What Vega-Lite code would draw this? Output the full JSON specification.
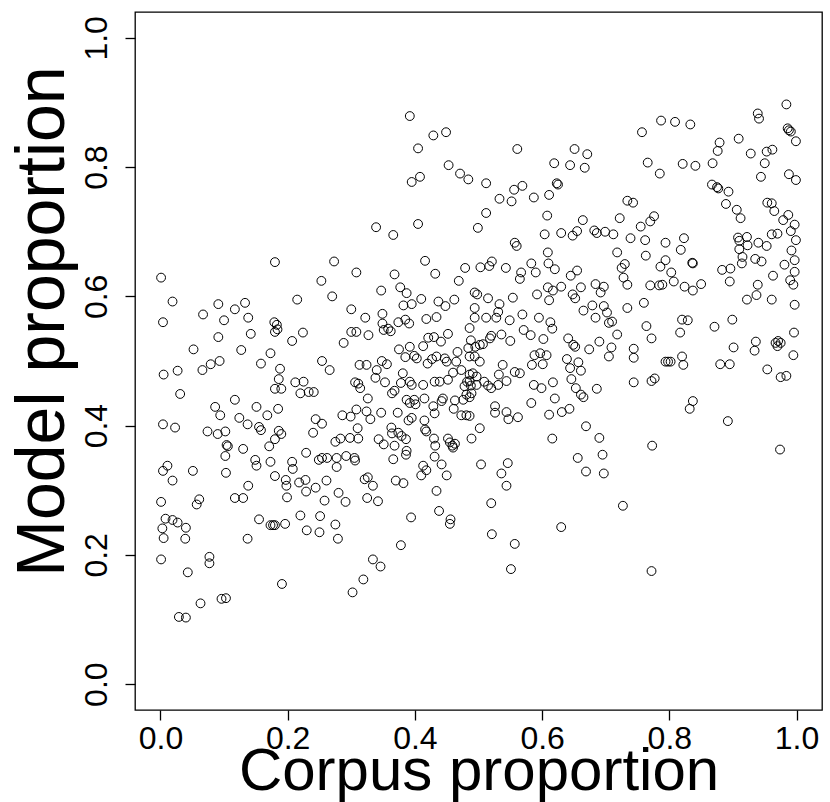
{
"$schema":"https://vega.github.io/schema/vega-lite/v6.json",
"width":687,"height":698,
"autosize":{"type":"none"},
"padding":{"left":135,"top":12,"right":8,"bottom":92},
"background":"white",
"config":{"view":{"stroke":"black","strokeWidth":1.3},"font":"Liberation Sans"},
"data":{"values":[
{"x":0.001,"y":0.629},{"x":0.180,"y":0.653},
{"x":0.392,"y":0.879},{"x":0.429,"y":0.849},{"x":0.449,"y":0.854},{"x":0.405,"y":0.829},{"x":0.453,"y":0.803},{"x":0.471,"y":0.790},{"x":0.484,"y":0.781},{"x":0.408,"y":0.785},{"x":0.395,"y":0.777},{"x":0.339,"y":0.707},{"x":0.366,"y":0.695},{"x":0.405,"y":0.712},{"x":0.499,"y":0.706},{"x":0.273,"y":0.654},{"x":0.308,"y":0.637},{"x":0.253,"y":0.624},{"x":0.368,"y":0.634},{"x":0.416,"y":0.655},{"x":0.432,"y":0.635},{"x":0.479,"y":0.644},{"x":0.469,"y":0.624},
{"x":0.561,"y":0.828},{"x":0.651,"y":0.828},{"x":0.671,"y":0.820},{"x":0.619,"y":0.806},{"x":0.644,"y":0.803},{"x":0.667,"y":0.799},{"x":0.623,"y":0.775},{"x":0.625,"y":0.773},{"x":0.512,"y":0.775},{"x":0.556,"y":0.765},{"x":0.569,"y":0.771},{"x":0.533,"y":0.751},{"x":0.552,"y":0.747},{"x":0.587,"y":0.753},{"x":0.611,"y":0.757},{"x":0.734,"y":0.748},{"x":0.743,"y":0.745},{"x":0.512,"y":0.729},{"x":0.608,"y":0.725},{"x":0.664,"y":0.718},{"x":0.722,"y":0.721},{"x":0.604,"y":0.696},{"x":0.630,"y":0.698},{"x":0.648,"y":0.694},{"x":0.655,"y":0.701},{"x":0.682,"y":0.702},{"x":0.686,"y":0.698},{"x":0.699,"y":0.700},{"x":0.712,"y":0.696},{"x":0.739,"y":0.690},{"x":0.557,"y":0.683},{"x":0.560,"y":0.678},{"x":0.609,"y":0.668},{"x":0.718,"y":0.668},{"x":0.503,"y":0.645},{"x":0.517,"y":0.647},{"x":0.521,"y":0.654},{"x":0.543,"y":0.644},{"x":0.583,"y":0.651},{"x":0.590,"y":0.637},{"x":0.610,"y":0.651},{"x":0.620,"y":0.642},{"x":0.567,"y":0.637},{"x":0.565,"y":0.627},{"x":0.645,"y":0.632},{"x":0.655,"y":0.640},{"x":0.725,"y":0.644},{"x":0.730,"y":0.650},{"x":0.728,"y":0.629},{"x":0.734,"y":0.618},{"x":0.684,"y":0.619},{"x":0.697,"y":0.615},{"x":0.630,"y":0.615},{"x":0.609,"y":0.614},{"x":0.661,"y":0.614},
{"x":0.984,"y":0.897},{"x":0.939,"y":0.883},{"x":0.941,"y":0.875},{"x":0.787,"y":0.872},{"x":0.809,"y":0.870},{"x":0.833,"y":0.866},{"x":0.757,"y":0.854},{"x":0.986,"y":0.860},{"x":0.988,"y":0.857},{"x":0.991,"y":0.855},{"x":0.999,"y":0.840},{"x":0.879,"y":0.838},{"x":0.876,"y":0.825},{"x":0.909,"y":0.844},{"x":0.928,"y":0.821},{"x":0.953,"y":0.824},{"x":0.962,"y":0.827},{"x":0.950,"y":0.806},{"x":0.766,"y":0.807},{"x":0.785,"y":0.790},{"x":0.821,"y":0.805},{"x":0.841,"y":0.802},{"x":0.868,"y":0.806},{"x":0.944,"y":0.785},{"x":0.988,"y":0.789},{"x":0.999,"y":0.780},{"x":0.867,"y":0.773},{"x":0.875,"y":0.769},{"x":0.877,"y":0.767},{"x":0.893,"y":0.762},{"x":0.889,"y":0.743},{"x":0.906,"y":0.734},{"x":0.912,"y":0.721},{"x":0.954,"y":0.745},{"x":0.961,"y":0.744},{"x":0.965,"y":0.732},{"x":0.979,"y":0.718},{"x":0.987,"y":0.726},{"x":0.997,"y":0.711},{"x":0.991,"y":0.701},{"x":0.999,"y":0.687},{"x":0.776,"y":0.724},{"x":0.770,"y":0.716},{"x":0.755,"y":0.708},{"x":0.762,"y":0.687},{"x":0.794,"y":0.683},{"x":0.823,"y":0.690},{"x":0.818,"y":0.672},{"x":0.763,"y":0.663},{"x":0.794,"y":0.656},{"x":0.786,"y":0.646},{"x":0.803,"y":0.637},{"x":0.836,"y":0.652},{"x":0.837,"y":0.651},{"x":0.807,"y":0.623},{"x":0.770,"y":0.617},{"x":0.784,"y":0.617},{"x":0.789,"y":0.618},{"x":0.824,"y":0.615},{"x":0.850,"y":0.619},{"x":0.883,"y":0.641},{"x":0.896,"y":0.643},{"x":0.895,"y":0.623},{"x":0.908,"y":0.691},{"x":0.910,"y":0.686},{"x":0.922,"y":0.692},{"x":0.923,"y":0.679},{"x":0.910,"y":0.673},{"x":0.915,"y":0.661},{"x":0.914,"y":0.651},{"x":0.940,"y":0.683},{"x":0.953,"y":0.678},{"x":0.961,"y":0.696},{"x":0.970,"y":0.697},{"x":0.935,"y":0.658},{"x":0.945,"y":0.654},{"x":0.939,"y":0.618},{"x":0.963,"y":0.632},{"x":0.981,"y":0.649},{"x":0.997,"y":0.656},{"x":0.992,"y":0.671},{"x":0.997,"y":0.638},{"x":0.990,"y":0.625},{"x":0.995,"y":0.618},
{"x":0.019,"y":0.592},{"x":0.091,"y":0.588},{"x":0.133,"y":0.590},{"x":0.117,"y":0.580},{"x":0.215,"y":0.595},{"x":0.004,"y":0.560},{"x":0.067,"y":0.572},{"x":0.100,"y":0.563},{"x":0.138,"y":0.567},{"x":0.179,"y":0.560},{"x":0.183,"y":0.556},{"x":0.180,"y":0.545},{"x":0.184,"y":0.549},{"x":0.091,"y":0.537},{"x":0.142,"y":0.542},{"x":0.207,"y":0.531},{"x":0.224,"y":0.544},{"x":0.052,"y":0.518},{"x":0.127,"y":0.517},{"x":0.173,"y":0.512},{"x":0.158,"y":0.496},{"x":0.066,"y":0.486},{"x":0.079,"y":0.495},{"x":0.093,"y":0.500},{"x":0.005,"y":0.479},{"x":0.027,"y":0.485},{"x":0.188,"y":0.488},{"x":0.186,"y":0.472},{"x":0.180,"y":0.457},{"x":0.190,"y":0.457},{"x":0.212,"y":0.467},{"x":0.225,"y":0.468},{"x":0.220,"y":0.450},{"x":0.233,"y":0.452},{"x":0.241,"y":0.452},{"x":0.031,"y":0.449},{"x":0.086,"y":0.429},{"x":0.094,"y":0.416},{"x":0.117,"y":0.440},{"x":0.151,"y":0.429},{"x":0.168,"y":0.416},{"x":0.185,"y":0.426},{"x":0.124,"y":0.412},{"x":0.137,"y":0.402},{"x":0.155,"y":0.398},{"x":0.158,"y":0.393},{"x":0.186,"y":0.392},{"x":0.190,"y":0.387},{"x":0.180,"y":0.379},{"x":0.171,"y":0.368},{"x":0.244,"y":0.410},{"x":0.240,"y":0.389},{"x":0.004,"y":0.402},{"x":0.023,"y":0.397},{"x":0.074,"y":0.391},{"x":0.090,"y":0.387},{"x":0.102,"y":0.391},{"x":0.104,"y":0.370},{"x":0.106,"y":0.368},{"x":0.102,"y":0.353},{"x":0.130,"y":0.364},{"x":0.149,"y":0.347},{"x":0.151,"y":0.338},{"x":0.173,"y":0.344},{"x":0.207,"y":0.344},{"x":0.208,"y":0.333},{"x":0.229,"y":0.358},{"x":0.004,"y":0.330},{"x":0.011,"y":0.338},{"x":0.051,"y":0.330},{"x":0.103,"y":0.327},{"x":0.180,"y":0.322},
{"x":0.019,"y":0.315},{"x":0.138,"y":0.307},{"x":0.197,"y":0.316},{"x":0.198,"y":0.307},{"x":0.218,"y":0.312},{"x":0.228,"y":0.316},{"x":0.244,"y":0.304},{"x":0.229,"y":0.298},{"x":0.199,"y":0.289},{"x":0.117,"y":0.288},{"x":0.130,"y":0.288},{"x":0.001,"y":0.282},{"x":0.057,"y":0.278},{"x":0.061,"y":0.286},{"x":0.008,"y":0.256},{"x":0.019,"y":0.254},{"x":0.027,"y":0.250},{"x":0.040,"y":0.242},{"x":0.003,"y":0.241},{"x":0.005,"y":0.226},{"x":0.039,"y":0.225},{"x":0.155,"y":0.255},{"x":0.173,"y":0.246},{"x":0.177,"y":0.246},{"x":0.180,"y":0.246},{"x":0.196,"y":0.248},{"x":0.220,"y":0.261},{"x":0.137,"y":0.225},{"x":0.001,"y":0.193},{"x":0.077,"y":0.197},{"x":0.077,"y":0.187},{"x":0.043,"y":0.173},{"x":0.191,"y":0.155},{"x":0.063,"y":0.125},{"x":0.096,"y":0.132},{"x":0.103,"y":0.133},{"x":0.029,"y":0.104},{"x":0.040,"y":0.103},
{"x":0.261,"y":0.315},{"x":0.258,"y":0.284},{"x":0.280,"y":0.296},{"x":0.291,"y":0.282},{"x":0.251,"y":0.260},{"x":0.230,"y":0.238},{"x":0.250,"y":0.235},{"x":0.275,"y":0.247},{"x":0.279,"y":0.225},{"x":0.321,"y":0.317},{"x":0.326,"y":0.320},{"x":0.334,"y":0.307},{"x":0.325,"y":0.288},{"x":0.342,"y":0.283},{"x":0.370,"y":0.315},{"x":0.382,"y":0.311},{"x":0.434,"y":0.299},{"x":0.438,"y":0.268},{"x":0.456,"y":0.255},{"x":0.455,"y":0.248},{"x":0.394,"y":0.258},{"x":0.378,"y":0.215},{"x":0.334,"y":0.193},{"x":0.346,"y":0.182},{"x":0.319,"y":0.162},{"x":0.302,"y":0.142},
{"x":0.544,"y":0.307},{"x":0.520,"y":0.280},{"x":0.521,"y":0.232},{"x":0.557,"y":0.217},{"x":0.551,"y":0.178},{"x":0.630,"y":0.243},{"x":0.727,"y":0.276},{"x":0.772,"y":0.175},
{"x":0.837,"y":0.609},{"x":0.760,"y":0.590},{"x":0.922,"y":0.595},{"x":0.937,"y":0.602},{"x":0.961,"y":0.595},{"x":0.997,"y":0.587},{"x":0.764,"y":0.554},{"x":0.772,"y":0.535},{"x":0.820,"y":0.564},{"x":0.829,"y":0.563},{"x":0.817,"y":0.544},{"x":0.871,"y":0.553},{"x":0.899,"y":0.564},{"x":0.901,"y":0.521},{"x":0.936,"y":0.530},{"x":0.934,"y":0.516},{"x":0.967,"y":0.528},{"x":0.971,"y":0.531},{"x":0.975,"y":0.528},{"x":0.970,"y":0.523},{"x":0.996,"y":0.544},{"x":0.995,"y":0.509},{"x":0.744,"y":0.519},{"x":0.744,"y":0.505},{"x":0.794,"y":0.499},{"x":0.798,"y":0.499},{"x":0.802,"y":0.499},{"x":0.820,"y":0.507},{"x":0.822,"y":0.494},{"x":0.880,"y":0.495},{"x":0.895,"y":0.495},{"x":0.954,"y":0.487},{"x":0.975,"y":0.475},{"x":0.984,"y":0.477},{"x":0.744,"y":0.467},{"x":0.772,"y":0.469},{"x":0.777,"y":0.473},{"x":0.837,"y":0.438},{"x":0.832,"y":0.426},{"x":0.892,"y":0.407},{"x":0.773,"y":0.369},{"x":0.974,"y":0.363},
{"x":0.494,"y":0.606},{"x":0.498,"y":0.603},{"x":0.515,"y":0.597},{"x":0.533,"y":0.588},{"x":0.554,"y":0.598},{"x":0.592,"y":0.603},{"x":0.617,"y":0.609},{"x":0.611,"y":0.594},{"x":0.648,"y":0.603},{"x":0.652,"y":0.597},{"x":0.692,"y":0.606},{"x":0.734,"y":0.582},{"x":0.494,"y":0.582},{"x":0.494,"y":0.567},{"x":0.512,"y":0.567},{"x":0.528,"y":0.567},{"x":0.531,"y":0.576},{"x":0.549,"y":0.563},{"x":0.569,"y":0.572},{"x":0.595,"y":0.567},{"x":0.613,"y":0.560},{"x":0.616,"y":0.550},{"x":0.665,"y":0.578},{"x":0.679,"y":0.586},{"x":0.684,"y":0.567},{"x":0.697,"y":0.585},{"x":0.702,"y":0.575},{"x":0.705,"y":0.559},{"x":0.710,"y":0.561},{"x":0.718,"y":0.541},{"x":0.486,"y":0.551},{"x":0.520,"y":0.539},{"x":0.518,"y":0.535},{"x":0.536,"y":0.541},{"x":0.550,"y":0.531},{"x":0.571,"y":0.548},{"x":0.582,"y":0.540},{"x":0.602,"y":0.534},{"x":0.641,"y":0.535},{"x":0.649,"y":0.525},{"x":0.652,"y":0.522},{"x":0.674,"y":0.518},{"x":0.690,"y":0.530},{"x":0.709,"y":0.521},{"x":0.705,"y":0.507},{"x":0.488,"y":0.532},{"x":0.495,"y":0.522},{"x":0.502,"y":0.525},{"x":0.507,"y":0.526},{"x":0.486,"y":0.507},{"x":0.494,"y":0.507},{"x":0.502,"y":0.499},{"x":0.491,"y":0.481},{"x":0.497,"y":0.476},{"x":0.486,"y":0.469},{"x":0.497,"y":0.463},{"x":0.509,"y":0.468},{"x":0.515,"y":0.462},{"x":0.520,"y":0.458},{"x":0.531,"y":0.463},{"x":0.532,"y":0.479},{"x":0.544,"y":0.469},{"x":0.538,"y":0.494},{"x":0.557,"y":0.483},{"x":0.565,"y":0.481},{"x":0.486,"y":0.444},{"x":0.584,"y":0.494},{"x":0.588,"y":0.509},{"x":0.597,"y":0.512},{"x":0.607,"y":0.509},{"x":0.601,"y":0.495},{"x":0.639,"y":0.503},{"x":0.644,"y":0.489},{"x":0.657,"y":0.498},{"x":0.661,"y":0.485},{"x":0.646,"y":0.472},{"x":0.587,"y":0.463},{"x":0.599,"y":0.458},{"x":0.617,"y":0.467},{"x":0.620,"y":0.442},{"x":0.583,"y":0.435},{"x":0.653,"y":0.458},{"x":0.661,"y":0.448},{"x":0.665,"y":0.444},{"x":0.686,"y":0.457},{"x":0.526,"y":0.430},{"x":0.526,"y":0.420},{"x":0.544,"y":0.421},{"x":0.547,"y":0.410},{"x":0.562,"y":0.413},{"x":0.486,"y":0.415},{"x":0.502,"y":0.396},{"x":0.489,"y":0.380},{"x":0.611,"y":0.417},{"x":0.631,"y":0.421},{"x":0.643,"y":0.426},{"x":0.669,"y":0.399},{"x":0.690,"y":0.381},{"x":0.616,"y":0.380},{"x":0.656,"y":0.350},{"x":0.695,"y":0.355},{"x":0.504,"y":0.340},{"x":0.546,"y":0.342},{"x":0.536,"y":0.326},{"x":0.669,"y":0.329},{"x":0.697,"y":0.326},
{"x":0.347,"y":0.609},{"x":0.377,"y":0.614},{"x":0.387,"y":0.605},{"x":0.410,"y":0.596},{"x":0.270,"y":0.600},{"x":0.300,"y":0.580},{"x":0.322,"y":0.567},{"x":0.349,"y":0.573},{"x":0.382,"y":0.586},{"x":0.395,"y":0.588},{"x":0.437,"y":0.592},{"x":0.462,"y":0.595},{"x":0.448,"y":0.585},{"x":0.418,"y":0.565},{"x":0.434,"y":0.568},{"x":0.300,"y":0.545},{"x":0.308,"y":0.545},{"x":0.327,"y":0.540},{"x":0.288,"y":0.528},{"x":0.349,"y":0.558},{"x":0.351,"y":0.548},{"x":0.358,"y":0.550},{"x":0.374,"y":0.560},{"x":0.385,"y":0.564},{"x":0.391,"y":0.558},{"x":0.362,"y":0.546},{"x":0.421,"y":0.536},{"x":0.430,"y":0.537},{"x":0.441,"y":0.530},{"x":0.452,"y":0.542},{"x":0.413,"y":0.523},{"x":0.375,"y":0.518},{"x":0.392,"y":0.522},{"x":0.385,"y":0.506},{"x":0.399,"y":0.508},{"x":0.403,"y":0.504},{"x":0.420,"y":0.496},{"x":0.427,"y":0.503},{"x":0.434,"y":0.507},{"x":0.447,"y":0.504},{"x":0.450,"y":0.499},{"x":0.467,"y":0.514},{"x":0.465,"y":0.499},{"x":0.484,"y":0.520},{"x":0.254,"y":0.500},{"x":0.266,"y":0.486},{"x":0.313,"y":0.494},{"x":0.324,"y":0.494},{"x":0.348,"y":0.500},{"x":0.356,"y":0.495},{"x":0.340,"y":0.486},{"x":0.338,"y":0.474},{"x":0.353,"y":0.467},{"x":0.381,"y":0.481},{"x":0.378,"y":0.466},{"x":0.392,"y":0.468},{"x":0.395,"y":0.463},{"x":0.413,"y":0.463},{"x":0.431,"y":0.468},{"x":0.439,"y":0.468},{"x":0.452,"y":0.471},{"x":0.460,"y":0.482},{"x":0.473,"y":0.486},{"x":0.486,"y":0.479},{"x":0.482,"y":0.468},{"x":0.478,"y":0.461},{"x":0.488,"y":0.462},{"x":0.306,"y":0.467},{"x":0.314,"y":0.458},{"x":0.311,"y":0.465},{"x":0.326,"y":0.442},{"x":0.364,"y":0.450},{"x":0.368,"y":0.454},{"x":0.387,"y":0.440},{"x":0.399,"y":0.440},{"x":0.392,"y":0.435},{"x":0.401,"y":0.433},{"x":0.415,"y":0.442},{"x":0.429,"y":0.430},{"x":0.442,"y":0.438},{"x":0.444,"y":0.442},{"x":0.431,"y":0.419},{"x":0.463,"y":0.439},{"x":0.461,"y":0.426},{"x":0.476,"y":0.440},{"x":0.481,"y":0.448},{"x":0.489,"y":0.450},{"x":0.473,"y":0.416},{"x":0.481,"y":0.416},{"x":0.254,"y":0.403},{"x":0.286,"y":0.416},{"x":0.299,"y":0.414},{"x":0.308,"y":0.425},{"x":0.324,"y":0.422},{"x":0.330,"y":0.410},{"x":0.347,"y":0.420},{"x":0.373,"y":0.420},{"x":0.390,"y":0.408},{"x":0.395,"y":0.412},{"x":0.415,"y":0.408},{"x":0.416,"y":0.394},{"x":0.418,"y":0.391},{"x":0.363,"y":0.397},{"x":0.364,"y":0.388},{"x":0.374,"y":0.389},{"x":0.379,"y":0.384},{"x":0.386,"y":0.379},{"x":0.310,"y":0.396},{"x":0.298,"y":0.381},{"x":0.311,"y":0.380},{"x":0.283,"y":0.380},{"x":0.275,"y":0.375},{"x":0.343,"y":0.379},{"x":0.351,"y":0.371},{"x":0.368,"y":0.369},{"x":0.387,"y":0.361},{"x":0.386,"y":0.355},{"x":0.430,"y":0.380},{"x":0.432,"y":0.369},{"x":0.452,"y":0.380},{"x":0.455,"y":0.374},{"x":0.459,"y":0.369},{"x":0.463,"y":0.372},{"x":0.460,"y":0.366},{"x":0.254,"y":0.350},{"x":0.262,"y":0.350},{"x":0.277,"y":0.350},{"x":0.292,"y":0.353},{"x":0.305,"y":0.350},{"x":0.306,"y":0.346},{"x":0.277,"y":0.336},{"x":0.249,"y":0.347},{"x":0.366,"y":0.348},{"x":0.413,"y":0.338},{"x":0.418,"y":0.331},{"x":0.431,"y":0.352},{"x":0.442,"y":0.340},{"x":0.450,"y":0.323},{"x":0.410,"y":0.323}
]},
"mark":{"type":"point","shape":"circle","filled":false,"stroke":"black","strokeWidth":1,"size":78,"opacity":1},
"encoding":{
"x":{"field":"x","type":"quantitative","scale":{"domain":[-0.04,1.04],"nice":false,"zero":false},
"axis":{"values":[0,0.2,0.4,0.6,0.8,1],"format":".1f","title":"Corpus proportion","grid":false,"domain":false,"ticks":true,"tickColor":"black","tickSize":10,"tickWidth":1.3,"labelFontSize":32,"labelColor":"black","labelPadding":3,"labelFlush":false,"titleFontSize":60,"titleFontWeight":"normal","titleColor":"black","titlePadding":-12}},
"y":{"field":"y","type":"quantitative","scale":{"domain":[-0.04,1.04],"nice":false,"zero":false},
"axis":{"values":[0,0.2,0.4,0.6,0.8,1],"format":".1f","title":"Model proportion","grid":false,"domain":false,"ticks":true,"tickColor":"black","tickSize":10,"tickWidth":1.3,"labelFontSize":32,"labelColor":"black","labelAngle":-90,"labelAlign":"center","labelBaseline":"bottom","labelPadding":12,"labelFlush":false,"titleFontSize":68,"titleFontWeight":"normal","titleColor":"black","titlePadding":3,"titleY":309}}
}
}
